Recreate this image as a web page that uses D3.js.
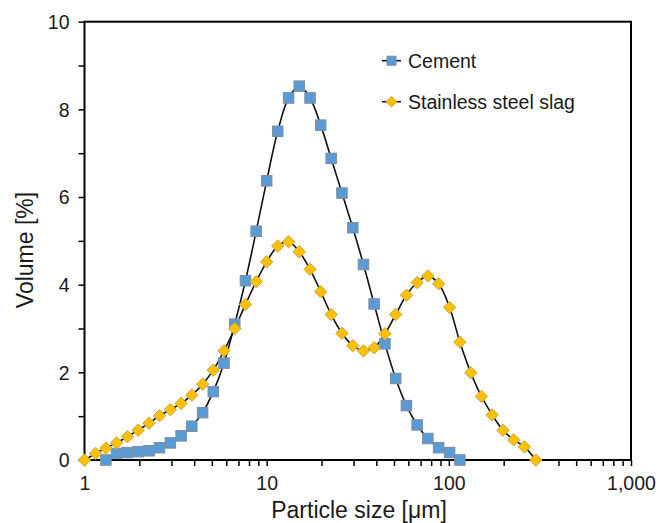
<!DOCTYPE html>
<html>
<head>
<meta charset="utf-8">
<script src="https://cdn.jsdelivr.net/npm/d3@7"></script>
<style>
  body { margin: 0; background: #fff; }
  text { font-family: "Liberation Sans", Arial, sans-serif; fill: #1a1a1a; }
</style>
</head>
<body>
<svg width="667" height="523"></svg>
<script>
// particle size bins [um]
var sizes = [1.00, 1.15, 1.31, 1.50, 1.72, 1.97, 2.26, 2.58, 2.96, 3.39, 3.88, 4.45, 5.09, 5.83, 6.68,
             7.65, 8.76, 10.0, 11.5, 13.2, 15.1, 17.3, 19.8, 22.6, 25.9, 29.7, 34.0, 38.9, 44.6, 51.1,
             58.5, 67.0, 76.7, 87.9, 101, 115, 132, 151, 173, 198, 227, 260, 300];

// volume [%], null = no data in that bin
var cement = [null, null, 0.00, 0.15, 0.17, 0.19, 0.21, 0.28, 0.39, 0.55, 0.77, 1.08, 1.56, 2.21, 3.10,
              4.09, 5.22, 6.37, 7.50, 8.26, 8.53, 8.26, 7.64, 6.88, 6.09, 5.30, 4.46, 3.56, 2.65, 1.86,
              1.24, 0.80, 0.49, 0.28, 0.17, 0.00, null, null, null, null, null, null, null];

var slag = [0.00, 0.15, 0.27, 0.39, 0.53, 0.68, 0.84, 1.01, 1.15, 1.29, 1.48, 1.73, 2.05, 2.49, 3.00,
            3.55, 4.07, 4.52, 4.88, 4.98, 4.75, 4.35, 3.84, 3.32, 2.89, 2.61, 2.49, 2.56, 2.88, 3.32,
            3.76, 4.05, 4.20, 4.02, 3.48, 2.69, 1.99, 1.45, 1.03, 0.68, 0.46, 0.30, 0.00];

var xTickLabels = [1, 10, 100, 1000];
var yTicks = [0, 2, 4, 6, 8, 10];
var yMinor = [1, 3, 5, 7, 9];
var seriesNames = ["Cement", "Stainless steel slag"];

var svg = d3.select('svg');

var x = d3.scaleLog().domain([1, 1000]).range([84.5, 631]);
var y = d3.scaleLinear().domain([0, 10]).range([460, 21.7]);

function pts(vals){
	return sizes.map(function(s, i){ return [s, vals[i]] })
				.filter(function(d){ return d[1] !== null });
}

var line = d3.line()
	.x(function(d){ return x(d[0]) })
	.y(function(d){ return y(d[1]) })
	.curve(d3.curveCatmullRom);

// frame
svg.append('rect')
	.attr('x', x(1)).attr('y', y(10))
	.attr('width', x(1000) - x(1)).attr('height', y(0) - y(10))
	.attr('fill', 'none').attr('stroke', '#000').attr('stroke-width', 2);

// x axis
var xAxis = d3.axisBottom(x)
	.tickValues(x.ticks())
	.tickSize(6)
	.tickFormat(function(d){ return xTickLabels.indexOf(d) >= 0 ? d3.format(',')(d) : '' });

var gx = svg.append('g').attr('transform', 'translate(0,460)').call(xAxis);
gx.select('.domain').remove();
gx.selectAll('line').attr('stroke', '#000').attr('stroke-width', 1.5);
gx.selectAll('text').attr('font-size', 19.5).attr('dy', 0).attr('y', 30).attr('fill', '#1a1a1a');

// y axis
var yAxis = d3.axisLeft(y)
	.tickValues(yTicks.concat(yMinor))
	.tickSize(6)
	.tickFormat(function(d){ return yTicks.indexOf(d) >= 0 ? d : '' });

var gy = svg.append('g').attr('transform', 'translate(84.5,0)').call(yAxis);
gy.select('.domain').remove();
gy.selectAll('line').attr('stroke', '#000').attr('stroke-width', 1.5);
gy.selectAll('text').attr('font-size', 19.5).attr('x', -15).attr('dy', '0.35em').attr('fill', '#1a1a1a');

// axis titles
svg.append('text')
	.attr('x', 359).attr('y', 518)
	.attr('text-anchor', 'middle')
	.attr('font-size', 23)
	.text('Particle size [μm]');

svg.append('text')
	.attr('transform', 'translate(33,250) rotate(-90)')
	.attr('text-anchor', 'middle')
	.attr('font-size', 23)
	.text('Volume [%]');

// lines
var cementPts = pts(cement);
var slagPts = pts(slag);

svg.append('path').datum(slagPts)
	.attr('d', line).attr('fill', 'none').attr('stroke', '#111').attr('stroke-width', 1.6);
svg.append('path').datum(cementPts)
	.attr('d', line).attr('fill', 'none').attr('stroke', '#111').attr('stroke-width', 1.6);

// markers
var sq = 10.5;
svg.selectAll('rect.cement')
	.data(cementPts)
	.enter()
	.append('rect')
	.attr('class', 'cement')
	.attr('x', function(d){ return x(d[0]) - sq / 2 })
	.attr('y', function(d){ return y(d[1]) - sq / 2 })
	.attr('width', sq).attr('height', sq)
	.attr('fill', '#5b9bd5').attr('stroke', '#7d8ea0').attr('stroke-width', 1);

var dm = 6.2;
function diamond(cx, cy, r){
	return 'M' + cx + ',' + (cy - r) + 'L' + (cx + r) + ',' + cy + 'L' + cx + ',' + (cy + r) + 'L' + (cx - r) + ',' + cy + 'Z';
}

svg.selectAll('path.slag')
	.data(slagPts)
	.enter()
	.append('path')
	.attr('class', 'slag')
	.attr('d', function(d){ return diamond(x(d[0]), y(d[1]), dm) })
	.attr('fill', '#ffc000').attr('stroke', '#c9a640').attr('stroke-width', 1);

// legend
var leg = svg.append('g');
var legY = [60.7, 101.7];

leg.selectAll('line')
	.data(legY)
	.enter()
	.append('line')
	.attr('x1', 382).attr('x2', 401)
	.attr('y1', function(d){ return d }).attr('y2', function(d){ return d })
	.attr('stroke', '#111').attr('stroke-width', 1.6);

leg.append('rect')
	.attr('x', 391.5 - 4.5).attr('y', legY[0] - 4.5)
	.attr('width', 9).attr('height', 9)
	.attr('fill', '#5b9bd5').attr('stroke', '#7d8ea0').attr('stroke-width', 1);

leg.append('path')
	.attr('d', diamond(391.5, legY[1], 5.5))
	.attr('fill', '#ffc000').attr('stroke', '#c9a640').attr('stroke-width', 1);

leg.selectAll('text')
	.data(seriesNames)
	.enter()
	.append('text')
	.attr('x', 408)
	.attr('y', function(d, i){ return legY[i] + 6.8 })
	.attr('font-size', 19.5)
	.text(function(d){ return d });
</script>
</body>
</html>
